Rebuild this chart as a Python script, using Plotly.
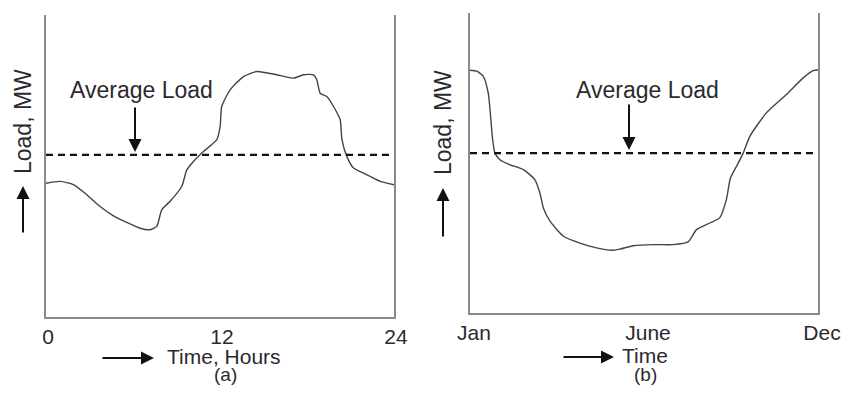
import plotly.graph_objects as go

# ---- Data ----
hours = [0, 0.97, 1.89, 2.81, 3.73, 4.65, 5.57, 6.49, 7.18, 7.64, 7.98, 8.56, 9.36, 9.71,
         10.17, 10.86, 11.78, 12.01, 12.12, 12.70, 13.62, 14.54, 15.92, 17.07, 17.76,
         18.45, 18.68, 18.91, 19.37, 19.83, 20.29, 20.41, 20.75, 21.21, 22.13, 23.05, 24]
daily_load = [44.3, 44.9, 43.8, 40.5, 36.6, 33.5, 31.3, 29.4, 28.9, 30.0, 35.5, 38.3, 43.2,
              48.7, 51.5, 54.8, 58.7, 63.1, 69.7, 75.2, 79.6, 81.3, 80.2, 79.1, 80.2, 80.2,
              78.5, 74.1, 73.0, 69.7, 65.3, 58.7, 53.1, 49.3, 47.1, 44.9, 43.8]
daily_avg = 53.7

months = [0, 0.23, 0.46, 0.63, 0.71, 0.78, 0.86, 1.03, 1.38, 1.84, 2.24, 2.41, 2.53, 2.76,
          3.22, 3.79, 4.36, 4.88, 5.17, 5.63, 6.32, 7.00, 7.52, 7.81, 8.27, 8.61, 8.84,
          8.98, 9.19, 9.42, 9.65, 10.22, 10.91, 11.48, 11.83, 12]
annual_load = [80.9, 80.6, 78.9, 73.3, 65.6, 57.8, 53.3, 51.1, 49.4, 47.8, 44.4, 40.0, 35.0,
               30.6, 25.6, 23.3, 21.7, 20.9, 21.3, 22.4, 22.8, 22.8, 23.7, 27.8, 30.0, 31.7,
               37.8, 45.0, 48.9, 53.3, 58.9, 66.7, 72.8, 78.3, 80.8, 81.1]
annual_avg = 53.3

hour_ticks = [0, 12, 24]
hour_labels = ["0", "12", "24"]
month_ticks = [0, 6, 12]
month_labels = ["Jan", "June", "Dec"]

# the page body has an 8px default margin on every side; size the figure so the
# page does not overflow the 849x394 window and elements land where the reference has them
OFF = 8
W, H = 849 - 2 * OFF, 394 - 2 * OFF
def px(x):
    return (x - OFF) / W
def py(y):
    return 1 - (y - OFF) / H

TXT = "#2a2a2e"
FONT = "Liberation Sans, Arial, sans-serif"
AX = "#8a8a8a"

fig = go.Figure()
fig.add_trace(go.Scatter(x=hours, y=daily_load, mode="lines", xaxis="x", yaxis="y",
                         line=dict(color="#444", width=1.4, shape="spline", smoothing=0.6),
                         showlegend=False))
fig.add_trace(go.Scatter(x=[hours[0], hours[-1]], y=[daily_avg, daily_avg], mode="lines",
                         xaxis="x", yaxis="y", line=dict(color="#111", width=2.4, dash="7px,5px"),
                         showlegend=False))
fig.add_trace(go.Scatter(x=months, y=annual_load, mode="lines", xaxis="x2", yaxis="y2",
                         line=dict(color="#444", width=1.4, shape="spline", smoothing=0.6),
                         showlegend=False))
fig.add_trace(go.Scatter(x=[months[0], months[-1]], y=[annual_avg, annual_avg], mode="lines",
                         xaxis="x2", yaxis="y2", line=dict(color="#111", width=2.4, dash="7px,5px"),
                         showlegend=False))

axis_common = dict(showgrid=False, zeroline=False, showline=True, linecolor=AX, linewidth=2,
                   ticks="", automargin=False,
                   tickfont=dict(family=FONT, size=21, color=TXT))
fig.update_layout(
    template="none",
    width=W, height=H, margin=dict(l=0, r=0, t=0, b=0, pad=0, autoexpand=False),
    paper_bgcolor="white", plot_bgcolor="white",
    xaxis=dict(domain=[px(46), px(394)], range=[0, 24], tickvals=hour_ticks,
               ticktext=hour_labels, anchor="y", ticklabelshift=2, **axis_common),
    yaxis=dict(domain=[py(317), py(15)], range=[0, 100], showticklabels=False, mirror=True,
               anchor="x", **axis_common),
    xaxis2=dict(domain=[px(470), px(818)], range=[0, 12], tickvals=month_ticks,
                ticktext=month_labels, anchor="y2", ticklabelshift=4, **axis_common),
    yaxis2=dict(domain=[py(313), py(13)], range=[0, 100], showticklabels=False, mirror=True,
                anchor="x2", **axis_common),
)

ann = []
def text(x, y, s, size=23, angle=0):
    ann.append(dict(x=px(x), y=py(y), xref="paper", yref="paper", text=s, showarrow=False,
                    textangle=angle, font=dict(family=FONT, size=size, color=TXT),
                    xanchor="center", yanchor="middle"))
def arrow(x0, y0, x1, y1):
    ann.append(dict(x=px(x1), y=py(y1), xref="paper", yref="paper", ax=x0 - x1, ay=y0 - y1,
                    text="", showarrow=True, arrowhead=2, arrowsize=1.3, arrowwidth=2,
                    arrowcolor="#111"))

# panel (a)
text(141, 90, "Average Load")
arrow(135, 106, 135, 152)
text(224, 356, "Time, Hours", size=21)
arrow(101, 358, 154, 358)
text(225, 374, "(a)", size=19)
text(23, 122, "Load, MW", angle=-90)
arrow(23, 234, 23, 186)

# panel (b)
text(647, 90, "Average Load")
arrow(629, 103, 629, 150)
text(645, 355, "Time", size=21)
arrow(562, 357, 614, 357)
text(645, 374, "(b)", size=19)
text(443, 122, "Load, MW", angle=-90)
arrow(443, 238, 443, 188)

fig.update_layout(annotations=ann)
fig.write_html("out.html")
